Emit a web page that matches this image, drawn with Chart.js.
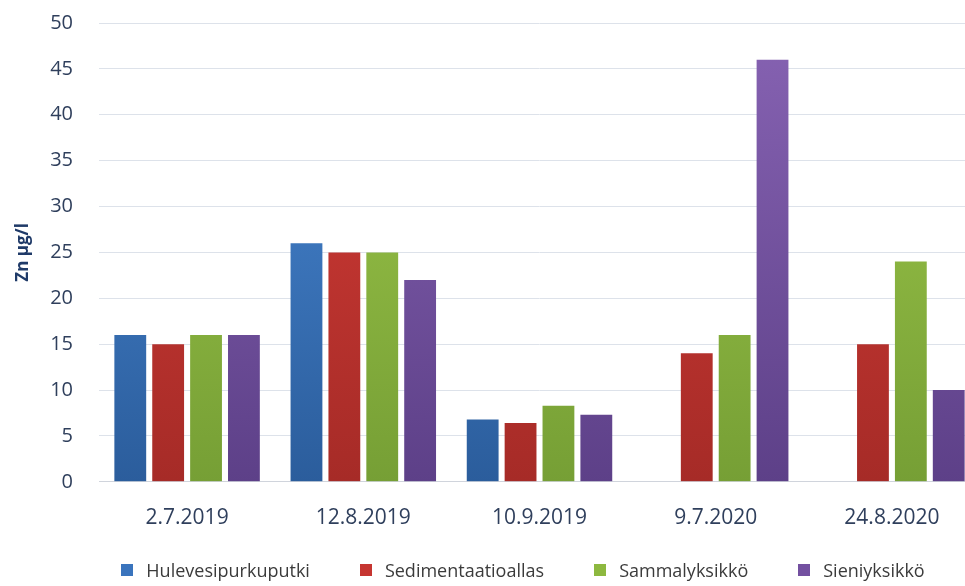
<!DOCTYPE html>
<html>
<head>
<meta charset="utf-8">
<script src="https://cdn.jsdelivr.net/npm/chart.js@4.4.1/dist/chart.umd.min.js"></script>
<style>
  html, body { margin: 0; padding: 0; overflow: hidden; background: #fff; }
  #wrap { width: 982px; height: 586px; position: relative; }
  #legend {
    position: absolute; left: 0; width: 1046px; top: 558px;
    text-align: center; white-space: nowrap;
    font-family: "Open Sans", sans-serif; font-size: 18px; color: #3b3b3b;
  }
  #legend span.item { display: inline-block; margin: 0 25px; }
  #legend span.box { display: inline-block; width: 12px; height: 12px; margin-right: 13px; vertical-align: 1px; }
</style>
</head>
<body>
<div id="wrap"><canvas id="chart"></canvas><div id="legend"></div></div>
<script>
// data
const dates = ['2.7.2019', '12.8.2019', '10.9.2019', '9.7.2020', '24.8.2020'];
const hulevesi = [16, 26, 6.8, null, null];
const sedimentaatio = [15, 25, 6.4, 14, 15];
const sammal = [16, 25, 8.3, 16, 24];
const sieni = [16, 22, 7.3, 46, 10];
const yTicks = [0, 5, 10, 15, 20, 25, 30, 35, 40, 45, 50];

const FONT = '"Open Sans", sans-serif';

// vertical gradient per series, lighter on top
function grad(top, bottom) {
    return function (ctx) {
        const area = ctx.chart.chartArea;
        if (!area) return bottom;
        const g = ctx.chart.ctx.createLinearGradient(0, area.top, 0, area.bottom);
        g.addColorStop(0, top);
        g.addColorStop(1, bottom);
        return g;
    };
}

const series = [
    { label: 'Hulevesipurkuputki', data: hulevesi, top: '#4a8ad6', bottom: '#2b5d9c', legend: '#3a74bd' },
    { label: 'Sedimentaatioallas', data: sedimentaatio, top: '#d63d38', bottom: '#a62b27', legend: '#c63531' },
    { label: 'Sammalyksikkö', data: sammal, top: '#9fc94b', bottom: '#769f35', legend: '#8db83f' },
    { label: 'Sieniyksikkö', data: sieni, top: '#8763b3', bottom: '#5d4088', legend: '#7350a0' }
];

const chart = new Chart(document.getElementById('chart'), {
    type: 'bar',
    data: {
        labels: dates,
        datasets: series.map(s => ({
            label: s.label,
            data: s.data,
            backgroundColor: grad(s.top, s.bottom),
            legendColor: s.legend,
            borderWidth: 0,
            categoryPercentage: 0.86,
            barPercentage: 0.84
        }))
    },
    options: {
        responsive: true,
        maintainAspectRatio: false,
        animation: false,
        layout: { padding: { top: 23, right: 2, left: 0, bottom: 31 } },
        plugins: {
            tooltip: { enabled: false },
            legend: { display: false }
        },
        scales: {
            x: {
                grid: { display: false, drawTicks: false },
                border: { color: '#d0d4dc', width: 1 },
                ticks: {
                    font: { family: FONT, size: 21 },
                    color: '#2f3f5c',
                    padding: 24
                }
            },
            y: {
                min: 0,
                max: 50,
                afterBuildTicks: axis => { axis.ticks = yTicks.map(v => ({ value: v })); },
                afterFit: axis => {
                    axis.width = 99;
                    axis.paddingTop = 0;
                    axis.paddingBottom = 0;
                },
                grid: { color: '#dde2ea', drawTicks: false },
                border: { display: false },
                ticks: {
                    font: { family: FONT, size: 20 },
                    color: '#2f3f5c',
                    padding: 26
                },
                title: {
                    display: true,
                    text: 'Zn µg/l',
                    font: { family: FONT, size: 17, weight: 'bold' },
                    color: '#1f3a68',
                    padding: { top: 13, bottom: 0 }
                }
            }
        }
    }
});

// legend from the datasets
const legendEl = document.getElementById('legend');
chart.data.datasets.forEach(d => {
    const item = document.createElement('span');
    item.className = 'item';
    const box = document.createElement('span');
    box.className = 'box';
    box.style.background = d.legendColor;
    item.appendChild(box);
    item.appendChild(document.createTextNode(d.label));
    legendEl.appendChild(item);
});
</script>
</body>
</html>
